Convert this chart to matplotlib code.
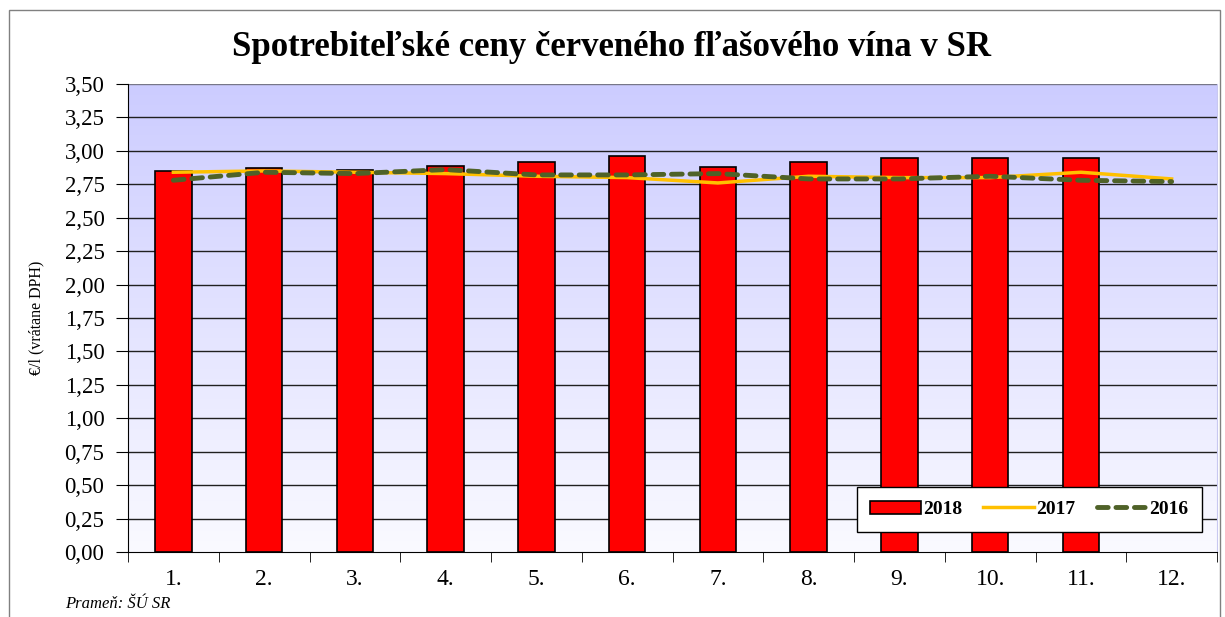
import numpy as np
import matplotlib
matplotlib.use("Agg")
import matplotlib.pyplot as plt
from matplotlib.patches import Rectangle
from matplotlib.ticker import FixedLocator, FuncFormatter

months = ["1.", "2.", "3.", "4.", "5.", "6.", "7.", "8.", "9.", "10.", "11.", "12."]
prices_2018 = [2.85, 2.87, 2.86, 2.89, 2.92, 2.96, 2.88, 2.92, 2.95, 2.95, 2.95]
prices_2017 = [2.84, 2.85, 2.84, 2.83, 2.81, 2.80, 2.76, 2.81, 2.80, 2.80, 2.84, 2.79]
prices_2016 = [2.78, 2.84, 2.83, 2.86, 2.82, 2.82, 2.83, 2.79, 2.79, 2.81, 2.78, 2.77]
yticks = [0.0, 0.25, 0.5, 0.75, 1.0, 1.25, 1.5, 1.75, 2.0, 2.25, 2.5, 2.75, 3.0, 3.25, 3.5]

serif = ["Liberation Serif", "DejaVu Serif"]
W, H = 1225, 617
fig = plt.figure(figsize=(W / 100, H / 100), dpi=100)
fig.patch.set_facecolor("white")

# outer frame
fig.add_artist(Rectangle((9 / W, -0.01), (1220 - 9) / W, 1 - 10 / H + 0.01,
                         transform=fig.transFigure, fill=False,
                         edgecolor="#808080", lw=1.0))

L, R, T, B = 128, 1217, 84, 552
ax = fig.add_axes([L / W, 1 - B / H, (R - L) / W, (B - T) / H])

n = len(months)
x = np.arange(n)
ax.set_xlim(-0.5, n - 0.5)
ax.set_ylim(0, 3.5)

# gradient background
grad = np.linspace(0, 1, 256).reshape(-1, 1)
top = np.array([204, 204, 255]) / 255.0
bot = np.array([250, 250, 255]) / 255.0
img = (bot[None, None, :] * (1 - grad[..., None]) + top[None, None, :] * grad[..., None])
ax.imshow(img, extent=[-0.5, n - 0.5, 0, 3.5], origin="lower", aspect="auto", zorder=0)

for yv in yticks[1:]:
    ax.axhline(yv, color="#202020" if yv < 3.5 else "#777788", lw=1.0, zorder=1)

ax.bar(x[:len(prices_2018)], prices_2018, width=0.4, color="#FF0000",
       edgecolor="black", linewidth=1.2, zorder=2, label="2018")
ax.plot(x, prices_2017, color="#FFC000", lw=2.5, zorder=3, label="2017")
ax.plot(x, prices_2016, color="#4F6228", lw=3.5, ls=(0, (2.2, 1.6)), zorder=4,
        label="2016", dash_capstyle="round")

ax.yaxis.set_major_locator(FixedLocator(yticks))
ax.yaxis.set_major_formatter(FuncFormatter(lambda v, p: f"{v:.2f}".replace(".", ",")))
ax.set_xticks(x)
ax.set_xticklabels(months)
ax.set_xticks(np.arange(-0.5, n, 1.0), minor=True)
ax.tick_params(axis="x", which="major", length=0, pad=12)
ax.tick_params(axis="x", which="minor", length=7, direction="out", color="black")
ax.tick_params(axis="y", length=9, direction="out", pad=8)
for lab in ax.get_xticklabels():
    lab.set_family(serif)
    lab.set_fontsize(17)
for lab in ax.get_yticklabels():
    lab.set_family(serif)
    lab.set_fontsize(16.5)

ax.spines["top"].set_visible(False)
ax.spines["right"].set_color("#C8C8F0")
ax.spines["left"].set_color("black")
ax.spines["bottom"].set_color("black")

ax.set_ylabel("€/l (vrátane DPH)", family=serif, fontsize=11.5)
ax.yaxis.set_label_coords(-0.077, 0.5)

fig.text(611 / W, 1 - 47 / H, "Spotrebiteľské ceny červeného fľašového vína v SR",
         ha="center", va="center", family=serif, fontsize=25, fontweight="bold")
fig.text(65 / W, 1 - 604 / H, "Prameň: ŠÚ SR", ha="left", va="center",
         family=serif, fontsize=12, style="italic")

h, l = ax.get_legend_handles_labels()
order = [l.index("2018"), l.index("2017"), l.index("2016")]
leg = ax.legend([h[i] for i in order], [l[i] for i in order],
                loc="lower left", bbox_to_anchor=(0.669, 0.043, 0.317, 0.100),
                mode="expand", ncol=3, frameon=True, fancybox=False,
                prop={"family": serif, "weight": "bold", "size": 14},
                handlelength=2.6, handletextpad=0.1, columnspacing=0.8,
                borderaxespad=0, borderpad=0.7)
leg.get_frame().set_edgecolor("black")
leg.get_frame().set_linewidth(1.0)
leg.get_frame().set_facecolor("white")
leg.get_frame().set_alpha(1.0)
leg.set_zorder(10)

fig.savefig("out.png", dpi=100)
